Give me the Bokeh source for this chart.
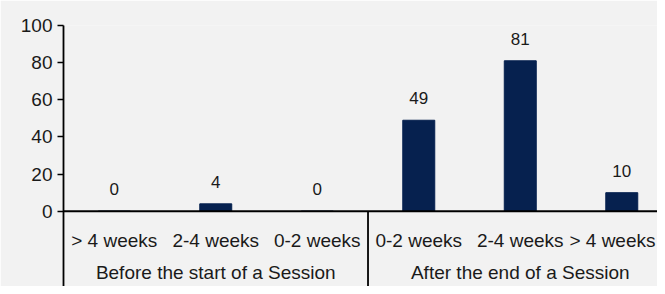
from bokeh.plotting import figure
from bokeh.models import Range1d, FixedTicker, Span, ColumnDataSource
from bokeh.core.properties import value
from bokeh.embed import file_html
from bokeh.resources import INLINE

groups = ["Before the start of a Session", "After the end of a Session"]
periods = ["> 4 weeks", "2-4 weeks", "0-2 weeks", "0-2 weeks", "2-4 weeks", "> 4 weeks"]
values = [0, 4, 0, 49, 81, 10]
y_ticks = [0, 20, 40, 60, 80, 100]

FONT = "Liberation Sans"
TXT = "#1a1a1a"
BAR = "#06214f"
BG = "#f2f2f2"

Y_MIN = -40.5
X_MAX = 5.852
n = len(values)
xs = [i + 0.5 for i in range(n)]
src = ColumnDataSource(dict(x=xs, v=values, lab=[str(v) for v in values]))

# category labels: the last one is right-aligned at the frame edge so it is not cut
lab_src = ColumnDataSource(dict(x=xs[:-1], per=periods[:-1], ly=[-15.5] * (n - 1)))
last_src = ColumnDataSource(dict(x=[X_MAX], per=periods[-1:], ly=[-15.5]))

p = figure(width=657, height=286, output_backend="svg", toolbar_location=None,
           x_range=Range1d(0, X_MAX), y_range=Range1d(Y_MIN, 100),
           min_border_left=63, min_border_right=0, min_border_top=25, min_border_bottom=0)
p.background_fill_color = BG
p.border_fill_color = BG
p.outline_line_color = None
p.grid.visible = False
p.xaxis.visible = False

ya = p.yaxis[0]
ya.ticker = FixedTicker(ticks=y_ticks)
ya.minor_tick_line_color = None
ya.major_tick_out = 6
ya.major_tick_in = 0
ya.major_tick_line_color = "black"
ya.major_tick_line_width = 1.5
ya.axis_line_color = "black"
ya.axis_line_width = 1.8
ya.major_label_text_font = FONT
ya.major_label_text_font_size = "19px"
ya.major_label_text_color = TXT
ya.major_label_standoff = 5

p.vbar(x="x", top="v", bottom=0, width=0.315, source=src, fill_color=BAR, line_color=BAR)

p.add_layout(Span(location=0, dimension="width", line_color="black", line_width=1.8))
p.segment(x0=[3], y0=[0], x1=[3], y1=[Y_MIN], line_color="black", line_width=1.8)

p.text(x="x", y="v", text="lab", source=src, text_font=value(FONT), text_font_size="17px",
       text_color=TXT, text_align="center", text_baseline="middle", y_offset=-22)
p.text(x="x", y="ly", text="per", source=lab_src, text_font=value(FONT), text_font_size="19px",
       text_color=TXT, text_align="center", text_baseline="middle")
p.text(x="x", y="ly", text="per", source=last_src, text_font=value(FONT), text_font_size="19px",
       text_color=TXT, text_align="right", text_baseline="middle", x_offset=-2)
p.text(x=[1.5, 4.5], y=[-33.2, -33.2], text=groups, text_font=value(FONT), text_font_size="19px",
       text_color=TXT, text_align="center", text_baseline="middle")

open("out.html", "w").write(file_html(p, INLINE))
